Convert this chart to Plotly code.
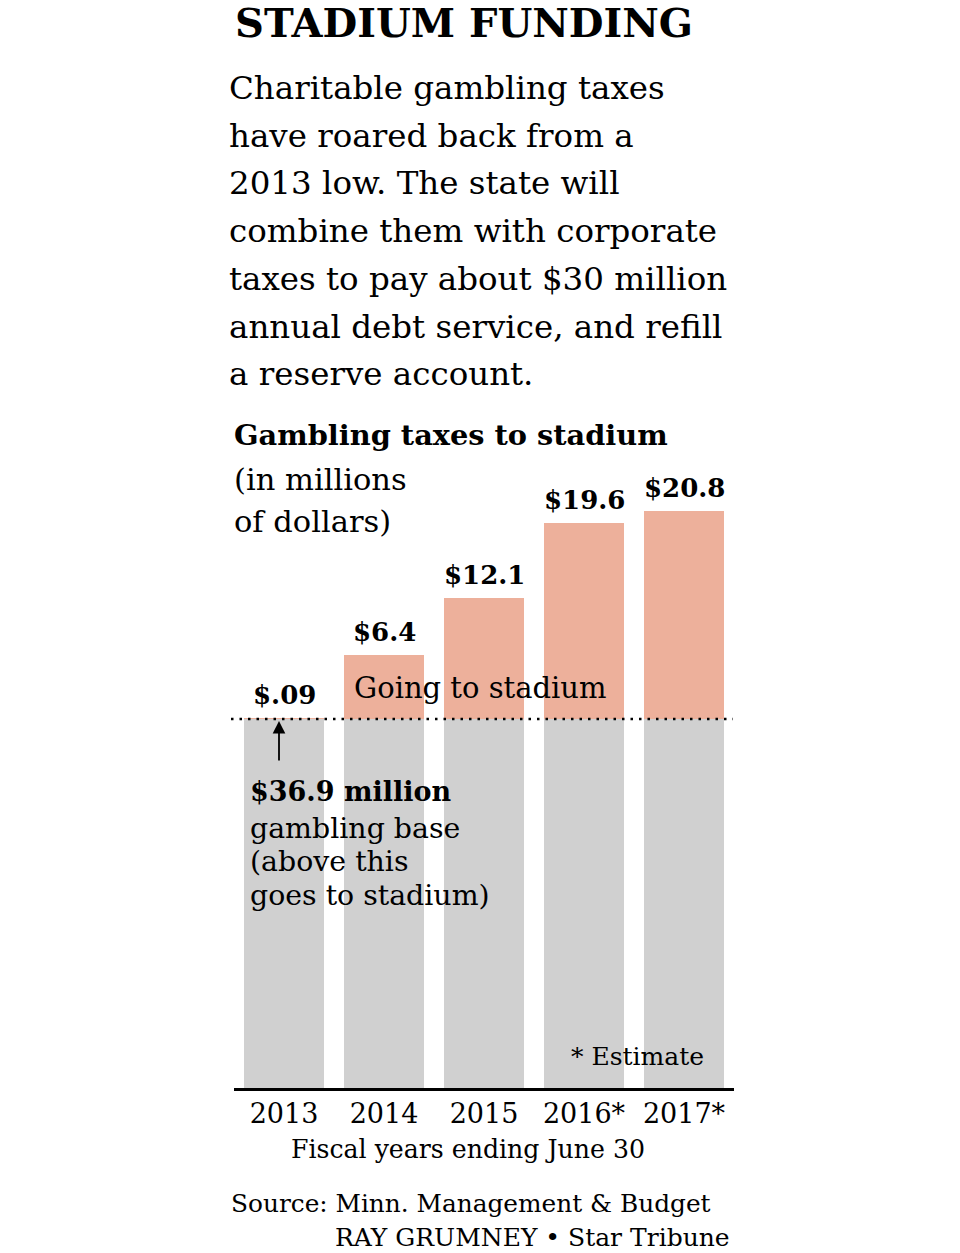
import plotly.graph_objects as go

W, H = 960, 1253

# ---- data ----
years = ["2013", "2014", "2015", "2016*", "2017*"]
base_amount = [36.9, 36.9, 36.9, 36.9, 36.9]          # gambling base, $M
stadium_amount = [0.09, 6.4, 12.1, 19.6, 20.8]        # going to stadium, $M
value_labels = ["$.09", "$6.4", "$12.1", "$19.6", "$20.8"]

title = "STADIUM FUNDING"
intro_lines = [
    "Charitable gambling taxes",
    "have roared back from a",
    "2013 low. The state will",
    "combine them with corporate",
    "taxes to pay about $30 million",
    "annual debt service, and refill",
    "a reserve account.",
]
chart_title = "Gambling taxes to stadium"
unit_lines = ["(in millions", "of dollars)"]
base_note = ["$36.9 million", "gambling base", "(above this", "goes to stadium)"]

SERIF = "DejaVu Serif"
GRAY = "#d0d0d0"
PINK = "#edb09b"


def px(x):
    return x / W


def py(y):
    return 1 - y / H


fig = go.Figure()

xs = list(range(len(years)))
fig.add_trace(go.Bar(x=xs, y=base_amount,
                     marker=dict(color=GRAY, line=dict(width=0)), width=0.8,
                     hoverinfo="skip"))
fig.add_trace(go.Bar(x=xs, y=stadium_amount,
                     marker=dict(color=PINK, line=dict(width=0)), width=0.8,
                     hoverinfo="skip"))

ann = []


def txt(text, x, y, size, bold=False, anchor="left"):
    shift = -3 if anchor == "left" else 3
    ann.append(dict(
        text=f"<b>{text}</b>" if bold else text,
        x=px(x + shift), y=py(y), xref="paper", yref="paper",
        xanchor=anchor, yanchor="middle", showarrow=False,
        font=dict(family=SERIF, size=size, color="black"),
    ))


txt(title, 236, 22, 40, bold=True)
for i, line in enumerate(intro_lines):
    txt(line, 230, 88 + i * 47.7, 32.5)
txt(chart_title, 235, 435, 28.8, bold=True)
txt(unit_lines[0], 235, 479, 30.5)
txt(unit_lines[1], 235, 522, 30.5)
txt("Going to stadium", 355, 688, 29)
txt(base_note[0], 251, 792, 27, bold=True)
for i, line in enumerate(base_note[1:]):
    txt(line, 251, 828 + i * 33.7, 28.4)
txt("* Estimate", 703, 1056, 25, anchor="right")
txt("Fiscal years ending June 30", 292, 1149, 25.2)
txt("Source: Minn. Management &amp; Budget", 232, 1203, 24.8)
txt("RAY GRUMNEY • Star Tribune", 729, 1237, 25, anchor="right")

# value labels above bars
for i, (b, s, lab) in enumerate(zip(base_amount, stadium_amount, value_labels)):
    ann.append(dict(
        text=f"<b>{lab}</b>", x=i, y=b + s, xref="x", yref="y",
        xanchor="center", yanchor="middle", yshift=23, showarrow=False,
        font=dict(family=SERIF, size=26, color="black"),
    ))

# arrow pointing at the base line
ann.append(dict(
    text="", x=px(279), y=py(721), xref="paper", yref="paper",
    ax=0, ay=41, showarrow=True, arrowhead=2, arrowsize=1.4,
    arrowwidth=1.8, arrowcolor="black",
))

fig.update_layout(
    width=W, height=H,
    margin=dict(l=0, r=0, t=0, b=0),
    paper_bgcolor="white", plot_bgcolor="rgba(0,0,0,0)",
    showlegend=False, barmode="stack", bargap=0.2,
    annotations=ann,
    shapes=[dict(type="line", xref="paper", yref="y",
                 x0=px(231), x1=px(733), y0=base_amount[0], y1=base_amount[0],
                 line=dict(color="black", width=2.5, dash="2.5px,6px"))],
    xaxis=dict(domain=[px(234), px(734)], range=[-0.5, 4.5],
               showline=True, linecolor="black", linewidth=2.5,
               showgrid=False, zeroline=False, ticks="",
               tickmode="array", tickvals=xs, ticktext=years,
               tickfont=dict(family=SERIF, size=27, color="black"),
               fixedrange=True),
    yaxis=dict(domain=[py(1088), py(400)],
               range=[0, (1088 - 400) / 10], visible=False, fixedrange=True),
)

fig.write_html("out.html", config={"displayModeBar": False},
               post_script="document.body.style.margin='0';")
